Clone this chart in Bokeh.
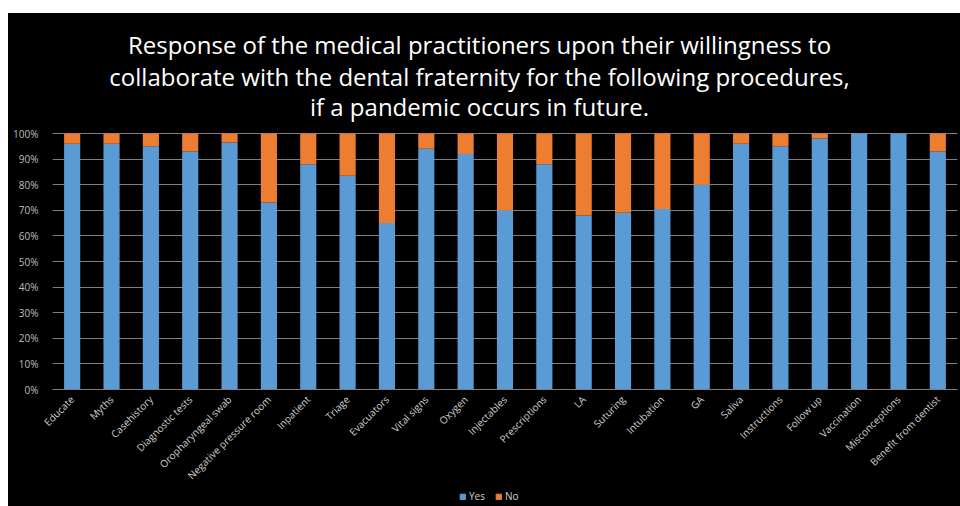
import math
from bokeh.plotting import figure
from bokeh.layouts import column
from bokeh.models import ColumnDataSource, FactorRange, Range1d, FixedTicker, NumeralTickFormatter, Label, Legend, LegendItem
from bokeh.embed import file_html
from bokeh.resources import INLINE

categories = ["Educate", "Myths", "Casehistory", "Diagnostic tests", "Oropharyngeal swab",
              "Negative pressure room", "Inpatient", "Triage", "Evacuators", "Vital signs",
              "Oxygen", "Injectables", "Prescriptions", "LA", "Suturing", "Intubation", "GA",
              "Saliva", "Instructions", "Follow up", "Vaccination", "Misconceptions",
              "Benefit from dentist"]
yes_pct = [96, 96, 95, 93, 96.5, 73, 88, 83.5, 65, 94, 92, 70, 88, 68, 69, 70.5, 80,
           96, 95, 98, 100, 100, 93]
no_pct = [100 - v for v in yes_pct]
y_ticks = [0, 0.1, 0.2, 0.3, 0.4, 0.5, 0.6, 0.7, 0.8, 0.9, 1.0]
series_names = ["Yes", "No"]
series_colors = ["#5B9BD5", "#ED7D31"]
title_lines = ["Response of the medical practitioners upon their willingness to",
               "collaborate with the dental fraternity for the following procedures,",
               "if a pandemic occurs in future."]

source = ColumnDataSource(dict(cat=categories,
                               yes=[v / 100 for v in yes_pct],
                               no=[v / 100 for v in no_pct]))

# frame covers title area too; 100% sits 120px below the frame top (256px per 100%)
p = figure(x_range=FactorRange(*categories, range_padding=0), y_range=Range1d(0, 376 / 256),
           width=952, height=477, output_backend="svg", toolbar_location=None,
           title=None,
           background_fill_color="black", border_fill_color="black",
           min_border_left=44, min_border_right=3, min_border_top=0, min_border_bottom=101,
           outline_line_color=None)

r = p.vbar_stack(["yes", "no"], x="cat", width=0.41, color=series_colors,
                 line_color=None, source=source)

p.yaxis.ticker = FixedTicker(ticks=y_ticks)
p.yaxis.formatter = NumeralTickFormatter(format="0%")
p.yaxis.axis_line_color = None
p.yaxis.major_tick_line_color = None
p.yaxis.minor_tick_line_color = None
p.yaxis.major_label_text_color = "#bfbfbf"
p.yaxis.major_label_text_font = "Open Sans"
p.yaxis.major_label_text_font_size = "10px"
p.yaxis.major_label_standoff = 8

p.xaxis.axis_line_color = "#7f7f7f"
p.xaxis.major_tick_line_color = None
p.xaxis.minor_tick_line_color = None
p.xaxis.major_label_orientation = math.pi / 4
p.xaxis.major_label_text_color = "#d0d0d0"
p.xaxis.major_label_text_font = "Open Sans"
p.xaxis.major_label_text_font_size = "10px"
p.xaxis.major_label_standoff = 2

p.xgrid.grid_line_color = None
p.ygrid.grid_line_color = "#7f7f7f"
p.ygrid.grid_line_width = 1

for line, yy in zip(title_lines, [345, 313, 283]):
    p.add_layout(Label(x=427, y=yy, x_units="screen", y_units="screen", text=line,
                       text_align="center", text_baseline="alphabetic", text_color="white",
                       text_font="Open Sans", text_font_size="24px"))

# legend strip underneath
lg = figure(x_range=Range1d(0, 1), y_range=Range1d(0, 1), width=952, height=16,
            output_backend="svg", toolbar_location=None, title=None,
            x_axis_location=None, y_axis_location=None,
            background_fill_color="black", border_fill_color="black",
            min_border=0, outline_line_color=None)
lg.grid.visible = False
offscreen = ColumnDataSource(dict(x=[5], y=[5]))
rs = [lg.rect(x="x", y="y", width=0.1, height=0.1, fill_color=c, line_color=c, source=offscreen)
      for c in series_colors]
legend = Legend(items=[LegendItem(label=n, renderers=[rr]) for n, rr in zip(series_names, rs)],
                location=(407, 3), orientation="horizontal",
                background_fill_alpha=0, border_line_color=None,
                label_text_color="#d0d0d0", label_text_font="Open Sans",
                label_text_font_size="10px", glyph_width=7, glyph_height=7,
                padding=0, margin=0, spacing=6, label_standoff=3, label_height=10)
lg.add_layout(legend, "center")

layout = column(p, lg, spacing=0, margin=(13, 0, 0, 8),
                styles={"background-color": "black"})

open("out.html", "w").write(file_html(layout, INLINE))
